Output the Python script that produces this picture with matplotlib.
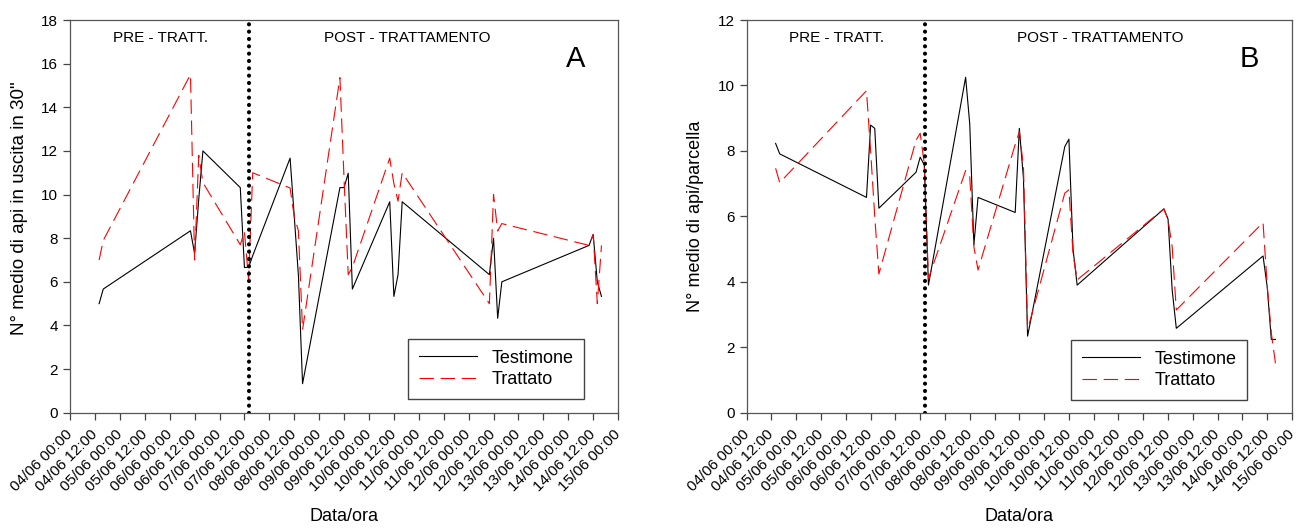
import pandas as pd
import matplotlib
matplotlib.use("Agg")
import matplotlib.pyplot as plt
import matplotlib.dates as mdates

plt.rcParams['font.family'] = ['Liberation Sans', 'DejaVu Sans']

# orari di campionamento (giugno)
tempi = ["04/06 14:00", "04/06 16:00",
         "06/06 10:00", "06/06 12:00", "06/06 14:00", "06/06 16:00",
         "07/06 10:00", "07/06 12:00", "07/06 14:00", "07/06 16:00",
         "08/06 10:00", "08/06 12:00", "08/06 14:00", "08/06 16:00",
         "09/06 10:00", "09/06 12:00", "09/06 14:00", "09/06 16:00",
         "10/06 10:00", "10/06 12:00", "10/06 14:00", "10/06 16:00",
         "12/06 10:00", "12/06 12:00", "12/06 14:00", "12/06 16:00",
         "14/06 10:00", "14/06 12:00", "14/06 14:00", "14/06 16:00"]

# A - api in uscita in 30"
testimone_a = [5.0, 5.67,
               8.34, 7.3, 9.8, 12.0,
               10.32, 6.66, 6.66, 7.2,
               11.67, 9.0, 6.3, 1.33,
               10.32, 10.32, 10.98, 5.67,
               9.67, 5.33, 6.33, 9.67,
               6.33, 8.0, 4.33, 6.0,
               7.67, 8.17, 6.0, 5.33]
trattato_a = [7.0, 7.9,
              15.5, 7.0, 11.8, 10.55,
              7.7, 8.3, 6.1, 11.0,
              10.3, 9.0, 8.34, 3.8,
              15.36, 10.7, 6.33, 6.67,
              11.67, 10.5, 9.7, 11.0,
              5.0, 10.0, 8.33, 8.67,
              7.67, 8.17, 5.0, 7.67]

# B - api per parcella
testimone_b = [8.23, 7.91,
               6.58, 8.79, 8.69, 6.25,
               7.35, 7.81, 7.57, 3.9,
               10.25, 8.82, 5.13, 6.58,
               6.12, 8.69, 7.16, 2.34,
               8.13, 8.36, 5.0, 3.9,
               6.23, 5.92, 3.75, 2.58,
               4.79, 3.85, 2.24, 2.24]
trattato_b = [7.47, 7.03,
              9.84, 8.0, 6.0, 4.24,
              8.33, 8.54, 7.6, 4.1,
              7.4, 7.21, 5.07, 4.36,
              8.2, 8.59, 7.52, 2.53,
              6.71, 6.81, 4.87, 4.06,
              6.23, 5.9, 5.07, 3.14,
              5.81, 3.9, 2.44, 1.51]

inizio_trattamento = "07/06 14:20"
x_min, x_max = "04/06 00:00", "15/06 00:00"


def to_dt(s):
    return pd.to_datetime("2009/" + pd.Series(s), format="%Y/%d/%m %H:%M")


t = to_dt(tempi)

fig = plt.figure(figsize=(13.07, 5.29), dpi=100)
ax_a = fig.add_axes([0.0536, 0.2198, 0.4193, 0.7423])
ax_b = fig.add_axes([0.5713, 0.2198, 0.4172, 0.7423])

pannelli = [
    (ax_a, testimone_a, trattato_a, 18, "N° medio di api in uscita in 30\"", 13.5, "A", (0.938, 0.035), 0.615),
    (ax_b, testimone_b, trattato_b, 12, "N° medio di api/parcella", 13, "B", (0.918, 0.032), 0.648),
]

for ax, test, tratt, ymax, ylab, ylab_fs, lettera, leg_pos, post_x in pannelli:
    ax.plot(t, test, color="black", lw=0.8, label="Testimone")
    ax.plot(t, tratt, color="red", lw=0.8, linestyle=(0, (13, 6)), label="Trattato")
    ax.axvline(to_dt([inizio_trattamento])[0], color="black", lw=3,
               linestyle=(0, (0.01, 1.75)), dash_capstyle="round")

    ax.set_xlim(to_dt([x_min])[0], to_dt([x_max])[0])
    ax.set_ylim(0, ymax)
    ax.set_yticks(range(0, ymax + 1, 2))
    ax.xaxis.set_major_locator(mdates.HourLocator(byhour=[0, 12]))
    ax.xaxis.set_major_formatter(mdates.DateFormatter("%d/%m %H:%M"))
    for lab in ax.get_xticklabels():
        lab.set_rotation(45)
        lab.set_ha("right")
        lab.set_va("center")
        lab.set_rotation_mode("anchor")

    ax.tick_params(direction="out", length=5, width=0.9, colors="#444444",
                   labelcolor="black", labelsize=11)
    ax.tick_params(axis="x", pad=9)
    for sp in ax.spines.values():
        sp.set_color("#555555")
        sp.set_linewidth(0.9)

    ax.set_ylabel(ylab, fontsize=ylab_fs)
    ax.set_xlabel("Data/ora", fontsize=13, labelpad=10)

    ax.text(0.165, 0.955, "PRE - TRATT.", transform=ax.transAxes,
            ha="center", va="center", fontsize=11)
    ax.text(post_x, 0.955, "POST - TRATTAMENTO", transform=ax.transAxes,
            ha="center", va="center", fontsize=11)
    ax.text(0.922, 0.9, lettera, transform=ax.transAxes,
            ha="center", va="center", fontsize=21)

    leg = ax.legend(loc="lower right", bbox_to_anchor=leg_pos, borderaxespad=0,
                    fontsize=13, fancybox=False, framealpha=1,
                    handlelength=3.2, handletextpad=0.8, borderpad=0.6,
                    labelspacing=0.25)
    leg.get_frame().set_edgecolor("#444444")
    leg.get_frame().set_linewidth(1.0)

ax_a.yaxis.set_label_coords(-0.076, 0.52)
ax_b.yaxis.set_label_coords(-0.078, 0.5)

fig.savefig("out.png", dpi=100)
